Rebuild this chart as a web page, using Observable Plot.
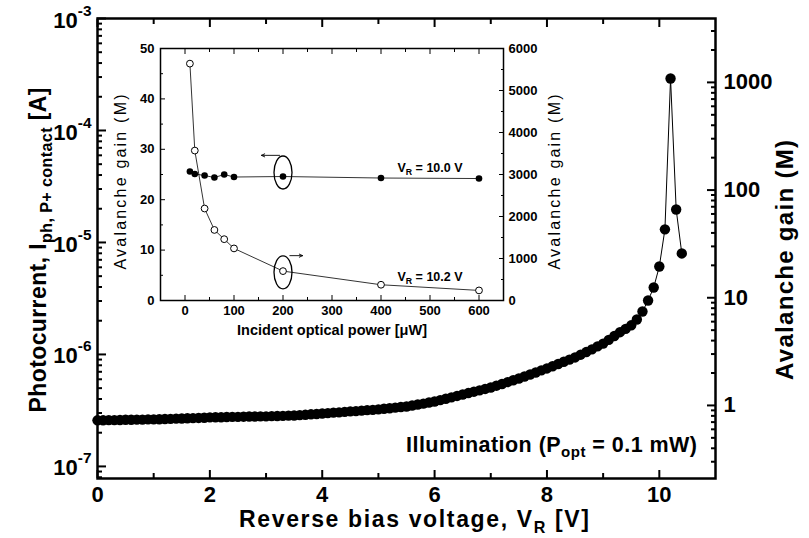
<!DOCTYPE html>
<html><head><meta charset="utf-8">
<script src="https://cdn.jsdelivr.net/npm/d3@7"></script>
<script src="https://cdn.jsdelivr.net/npm/@observablehq/plot@0.6"></script>
<style>
body{margin:0;background:#fff;}
#wrap{position:relative;width:809px;height:538px;overflow:hidden;}
</style></head><body><div id="wrap"></div>
<script>
// ---- main chart data ----
const voltage = [0.0,0.1,0.2,0.3,0.4,0.5,0.6,0.7,0.8,0.9,
 1.0,1.1,1.2,1.3,1.4,1.5,1.6,1.7,1.8,1.9,
 2.0,2.1,2.2,2.3,2.4,2.5,2.6,2.7,2.8,2.9,
 3.0,3.1,3.2,3.3,3.4,3.5,3.6,3.7,3.8,3.9,
 4.0,4.1,4.2,4.3,4.4,4.5,4.6,4.7,4.8,4.9,
 5.0,5.1,5.2,5.3,5.4,5.5,5.6,5.7,5.8,5.9,
 6.0,6.1,6.2,6.3,6.4,6.5,6.6,6.7,6.8,6.9,
 7.0,7.1,7.2,7.3,7.4,7.5,7.6,7.7,7.8,7.9,
 8.0,8.1,8.2,8.3,8.4,8.5,8.6,8.7,8.8,8.9,
 9.0,9.1,9.2,9.3,9.4,9.5,9.6,9.7,9.8,9.9,
 10.0,10.1,10.2,10.3,10.4];
const photocurrent = [2.58e-7,2.58e-7,2.59e-7,2.59e-7,2.60e-7,2.61e-7,2.61e-7,2.62e-7,2.62e-7,2.63e-7,
 2.63e-7,2.64e-7,2.65e-7,2.66e-7,2.67e-7,2.68e-7,2.69e-7,2.70e-7,2.71e-7,2.72e-7,
 2.74e-7,2.75e-7,2.75e-7,2.76e-7,2.77e-7,2.77e-7,2.78e-7,2.79e-7,2.79e-7,2.80e-7,
 2.80e-7,2.81e-7,2.82e-7,2.83e-7,2.84e-7,2.85e-7,2.87e-7,2.89e-7,2.92e-7,2.94e-7,
 2.97e-7,2.99e-7,3.02e-7,3.04e-7,3.07e-7,3.10e-7,3.12e-7,3.15e-7,3.18e-7,3.20e-7,
 3.23e-7,3.27e-7,3.31e-7,3.35e-7,3.39e-7,3.43e-7,3.50e-7,3.57e-7,3.64e-7,3.72e-7,
 3.80e-7,3.91e-7,4.02e-7,4.14e-7,4.26e-7,4.39e-7,4.52e-7,4.65e-7,4.78e-7,4.92e-7,
 5.07e-7,5.26e-7,5.45e-7,5.66e-7,5.88e-7,6.10e-7,6.35e-7,6.62e-7,6.90e-7,7.20e-7,
 7.50e-7,7.85e-7,8.22e-7,8.60e-7,8.99e-7,9.40e-7,9.95e-7,1.05e-6,1.11e-6,1.18e-6,
 1.25e-6,1.35e-6,1.46e-6,1.58e-6,1.69e-6,1.82e-6,2.05e-6,2.42e-6,3.03e-6,3.96e-6,
 6.1e-6,1.31e-5,2.91e-4,1.97e-5,7.98e-6];
const xTicksMajor = [0,2,4,6,8,10];
const xTicksMinor = [1,3,5,7,9];
const yDecades = [1e-7,1e-6,1e-5,1e-4,1e-3];
const yDecadeLabels = ["10^{-7}","10^{-6}","10^{-5}","10^{-4}","10^{-3}"];
const gainLabels = [1,10,100,1000];

// ---- inset data ----
const opticalPower = [10,20,40,60,80,100,200,400,600];
const gainVR100 = [25.6,25.1,24.8,24.4,25.0,24.5,24.6,24.3,24.2];      // left axis
const gainVR102 = [5640,3570,2190,1680,1460,1240,700,375,240];         // right axis
const insetXLabels = [0,100,200,300,400,500,600];
const insetXMinor = [50,150,250,350,450,550];
const insetYLabels = [0,10,20,30,40,50];
const insetYMinor = [5,15,25,35,45];
const insetY2Labels = [0,1000,2000,3000,4000,5000,6000];
const insetY2Minor = [500,1500,2500,3500,4500,5500];
const ellipseMarks = [{p:200, g:25.4},{p:200, g:5.6}];
const arrowMarks = [{p1:193, g1:28.8, p2:156, g2:28.8},{p1:214, g1:8.9, p2:240, g2:8.9}];
const vLabels = [{p:500, g:26.3, t:"V_{R} = 10.0 V"},{p:500, g:4.6, t:"V_{R} = 10.2 V"}];

const FONT = "'Liberation Sans', Arial, Helvetica, sans-serif";
const Y2RATIO = 120; // 6000 / 50

// gain axis (right) mapped onto the current scale
const gainToI = g => 10 ** (-6.4554 + 0.9616 * Math.log10(g));
function logMinor(lo, hi) {
  const out = [];
  for (let e = Math.floor(Math.log10(lo)); e <= Math.ceil(Math.log10(hi)); e++)
    for (let m = 2; m <= 9; m++) { const v = m * 10 ** e; if (v >= lo && v <= hi) out.push(v); }
  return out;
}
const yDomain = [7.8e-8, 1e-3];
const yMinor = logMinor(yDomain[0], yDomain[1]);
const gainMinor = logMinor(0.21, 3900).map(gainToI).filter(v => v >= yDomain[0] && v <= yDomain[1]);

function richify(root) {
  root.querySelectorAll("text").forEach(t => {
    const s = t.textContent;
    if (!/[_^]\{/.test(s)) return;
    while (t.firstChild) t.removeChild(t.firstChild);
    const re = /([_^])\{([^}]*)\}/g;
    let last = 0, m;
    const add = (txt, kind) => {
      const ts = document.createElementNS("http://www.w3.org/2000/svg", "tspan");
      ts.textContent = txt;
      if (kind) {
        ts.setAttribute("font-size", "70%");
        ts.setAttribute("baseline-shift", kind === "_" ? "-0.35em" : "0.75em");
      }
      t.appendChild(ts);
    };
    while ((m = re.exec(s))) {
      if (m.index > last) add(s.slice(last, m.index));
      add(m[2], m[1]);
      last = re.lastIndex;
    }
    if (last < s.length) add(s.slice(last));
  });
}

const data = voltage.map((v, i) => ({v, I: photocurrent[i]}));
const decadeData = yDecades.map((d, i) => ({d, t: yDecadeLabels[i]}));

const main = Plot.plot({
  width: 809, height: 538,
  marginLeft: 97, marginRight: 94, marginTop: 18, marginBottom: 60,
  x: {domain: [0, 11], label: null},
  y: {type: "log", domain: yDomain, label: null},
  style: {fontFamily: FONT, fontSize: "22px", fontWeight: "bold", color: "black", background: "white"},
  marks: [
    Plot.axisX(xTicksMajor, {anchor: "bottom", tickSize: -8, tickPadding: 16, strokeWidth: 2, tickFormat: d => String(d)}),
    Plot.axisX(xTicksMinor, {anchor: "bottom", tickSize: -5, strokeWidth: 2, tickFormat: () => ""}),
    Plot.axisX(xTicksMajor, {anchor: "top", tickSize: -8, strokeWidth: 2, tickFormat: () => ""}),
    Plot.axisX(xTicksMinor, {anchor: "top", tickSize: -5, strokeWidth: 2, tickFormat: () => ""}),
    Plot.axisY(yDecades, {anchor: "left", tickSize: -9, strokeWidth: 2, tickFormat: () => ""}),
    Plot.axisY(yMinor, {anchor: "left", tickSize: -5, strokeWidth: 2, tickFormat: () => ""}),
    Plot.text(decadeData, {y: "d", text: "t", frameAnchor: "left", textAnchor: "end", dx: -6, dy: 2}),
    Plot.axisY(gainLabels.map(gainToI), {anchor: "right", tickSize: -9, strokeWidth: 2, tickFormat: () => ""}),
    Plot.axisY(gainMinor, {anchor: "right", tickSize: -5, strokeWidth: 2, tickFormat: () => ""}),
    Plot.text(gainLabels, {y: g => gainToI(g), text: g => String(g), frameAnchor: "right", textAnchor: "start", dx: 8}),
    Plot.frame({stroke: "black", strokeWidth: 2.5}),
    Plot.line(data, {x: "v", y: "I", stroke: "black", strokeWidth: 1}),
    Plot.dot(data, {x: "v", y: "I", r: 5.2, fill: "black"})
  ]
});

const svgNS = "http://www.w3.org/2000/svg";
function addText(svg, str, attrs) {
  const t = document.createElementNS(svgNS, "text");
  for (const k in attrs) t.setAttribute(k, attrs[k]);
  t.textContent = str;
  svg.appendChild(t);
  return t;
}
addText(main, "Photocurrent, I_{ph, P+ contact} [A]", {transform: "translate(46,250) rotate(-90)", "text-anchor": "middle", "font-size": 23, textLength: 325, lengthAdjust: "spacing"});
addText(main, "Reverse bias voltage, V_{R} [V]", {x: 414, y: 527, "text-anchor": "middle", "font-size": 23, textLength: 350, lengthAdjust: "spacing"});
addText(main, "Avalanche gain (M)", {transform: "translate(793,260) rotate(-90)", "text-anchor": "middle", "font-size": 24, textLength: 240, lengthAdjust: "spacing"});
addText(main, "Illumination (P_{opt} = 0.1 mW)", {x: 697, y: 452, "text-anchor": "end", "font-size": 21.5, textLength: 291, lengthAdjust: "spacing"});
richify(main);

// ---- inset ----
const low = opticalPower.map((p, i) => ({p, g: gainVR100[i]}));
const high = opticalPower.map((p, i) => ({p, g: gainVR102[i] / Y2RATIO}));
const ellipseSymbol = (rx, ry) => ({draw(ctx) {
  const k = 0.5523;
  ctx.moveTo(rx, 0);
  ctx.bezierCurveTo(rx, ry * k, rx * k, ry, 0, ry);
  ctx.bezierCurveTo(-rx * k, ry, -rx, ry * k, -rx, 0);
  ctx.bezierCurveTo(-rx, -ry * k, -rx * k, -ry, 0, -ry);
  ctx.bezierCurveTo(rx * k, -ry, rx, -ry * k, rx, 0);
  ctx.closePath();
}});

const inset = Plot.plot({
  width: 470, height: 320,
  marginLeft: 60, marginRight: 67, marginTop: 18, marginBottom: 50,
  x: {domain: [-50, 650], label: null},
  y: {domain: [0, 50], label: null},
  style: {fontFamily: FONT, fontSize: "13px", fontWeight: "bold", color: "black", background: "transparent", overflow: "visible"},
  marks: [
    Plot.axisX(insetXLabels, {anchor: "bottom", tickSize: -5, tickPadding: 10, tickFormat: d => String(d)}),
    Plot.axisX(insetXMinor, {anchor: "bottom", tickSize: -3, tickFormat: () => ""}),
    Plot.axisX(insetXLabels, {anchor: "top", tickSize: -5, tickFormat: () => ""}),
    Plot.axisX(insetXMinor, {anchor: "top", tickSize: -3, tickFormat: () => ""}),
    Plot.axisY(insetYLabels, {anchor: "left", tickSize: -5, tickPadding: 11, tickFormat: d => String(d)}),
    Plot.axisY(insetYMinor, {anchor: "left", tickSize: -3, tickFormat: () => ""}),
    Plot.axisY(insetY2Labels.map(d => d / Y2RATIO), {anchor: "right", tickSize: -5, tickPadding: 10, tickFormat: d => String(Math.round(d * Y2RATIO))}),
    Plot.axisY(insetY2Minor.map(d => d / Y2RATIO), {anchor: "right", tickSize: -3, tickFormat: () => ""}),
    Plot.frame({stroke: "black", strokeWidth: 1.5}),
    Plot.line(low, {x: "p", y: "g", stroke: "black", strokeWidth: 0.8}),
    Plot.dot(low, {x: "p", y: "g", r: 3.3, fill: "black"}),
    Plot.line(high, {x: "p", y: "g", stroke: "black", strokeWidth: 0.8}),
    Plot.dot(high, {x: "p", y: "g", r: 3.4, fill: "white", stroke: "black", strokeWidth: 1}),
    Plot.dot(ellipseMarks, {x: "p", y: "g", symbol: ellipseSymbol(9, 16.5), fill: "none", stroke: "black", strokeWidth: 1.3}),
    Plot.arrow(arrowMarks, {x1: "p1", y1: "g1", x2: "p2", y2: "g2", stroke: "black", strokeWidth: 0.9, headLength: 6, headAngle: 50}),
    Plot.text(vLabels, {x: "p", y: "g", text: "t", fontSize: 12.5, fontWeight: "bold"})
  ]
});
addText(inset, "Avalanche gain (M)", {transform: "translate(26,152) rotate(-90)", "text-anchor": "middle", "font-size": 16, "font-weight": "normal", textLength: 175, lengthAdjust: "spacing"});
addText(inset, "Avalanche gain (M)", {transform: "translate(460,152) rotate(-90)", "text-anchor": "middle", "font-size": 16, "font-weight": "normal", textLength: 175, lengthAdjust: "spacing"});
addText(inset, "Incident optical power [μW]", {x: 232, y: 305, "text-anchor": "middle", "font-size": 14.5, textLength: 190, lengthAdjust: "spacing"});
richify(inset);
inset.style.position = "absolute";
inset.style.left = "100px";
inset.style.top = "30px";

const wrap = document.getElementById("wrap");
wrap.appendChild(main);
wrap.appendChild(inset);
</script>
</body></html>
